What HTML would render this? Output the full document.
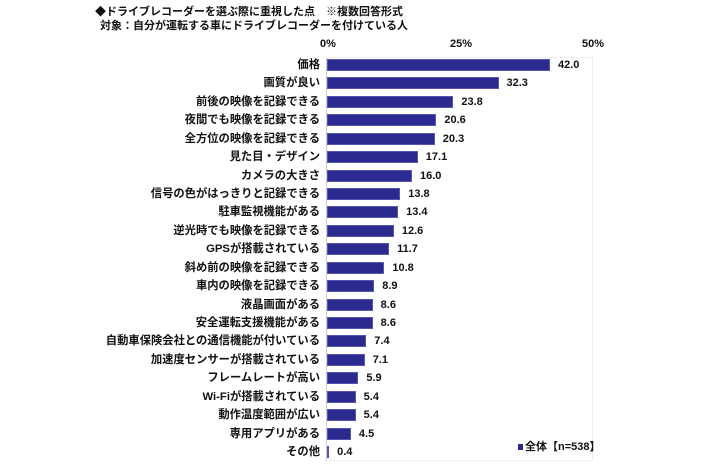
<!DOCTYPE html>
<html><head><meta charset="utf-8"><style>
body{margin:0;width:710px;height:474px;background:#fff;position:relative;overflow:hidden;font-family:"Liberation Sans","Noto Sans CJK JP",sans-serif;font-weight:bold;color:#111}
.t{position:absolute;font-size:11px;white-space:nowrap;line-height:14px}
.l{position:absolute;right:390px;font-size:11.3px;white-space:nowrap;line-height:14px;text-align:right}
.b{position:absolute;left:327px;height:12px;background:#2b2b8f;box-sizing:border-box;border:1px solid #5656b0}
.v{position:absolute;font-size:11px;line-height:14px}
.ax{position:absolute;top:38px;font-size:11px}
</style></head><body>
<div class="t" style="left:95px;top:5px">◆ドライブレコーダーを選ぶ際に重視した点　※複数回答形式</div>
<div class="t" style="left:100px;top:19px">対象：自分が運転する車にドライブレコーダーを付けている人</div>
<div class="ax" style="left:320px">0%</div>
<div class="ax" style="left:450px">25%</div>
<div class="ax" style="left:582px">50%</div>
<div style="position:absolute;left:326px;top:57px;width:267px;height:404px;border:1px solid #eee;border-left:1px solid #ccc;box-sizing:border-box"></div>
<div id="c"></div>
<div style="position:absolute;left:518px;top:444px;width:5px;height:6px;background:#2b2b8f"></div>
<div class="v" style="left:525px;top:440px;font-size:11px">全体【n=538】</div>
<script>
var d=[["価格",42.0],["画質が良い",32.3],["前後の映像を記録できる",23.8],["夜間でも映像を記録できる",20.6],["全方位の映像を記録できる",20.3],["見た目・デザイン",17.1],["カメラの大きさ",16.0],["信号の色がはっきりと記録できる",13.8],["駐車監視機能がある",13.4],["逆光時でも映像を記録できる",12.6],["GPSが搭載されている",11.7],["斜め前の映像を記録できる",10.8],["車内の映像を記録できる",8.9],["液晶画面がある",8.6],["安全運転支援機能がある",8.6],["自動車保険会社との通信機能が付いている",7.4],["加速度センサーが搭載されている",7.1],["フレームレートが高い",5.9],["Wi-Fiが搭載されている",5.4],["動作温度範囲が広い",5.4],["専用アプリがある",4.5],["その他",0.4]];
var h="";d.forEach(function(r,i){var cy=65+i*18.43;var w=Math.max(2,r[1]*5.31);
h+='<div class="l" style="top:'+(cy-7)+'px">'+r[0]+'</div>';
h+='<div class="b" style="top:'+(cy-6)+'px;width:'+w+'px"></div>';
h+='<div class="v" style="left:'+(327+w+8)+'px;top:'+(cy-7)+'px">'+r[1].toFixed(1)+'</div>';});
document.getElementById("c").innerHTML=h;
</script>
</body></html>
